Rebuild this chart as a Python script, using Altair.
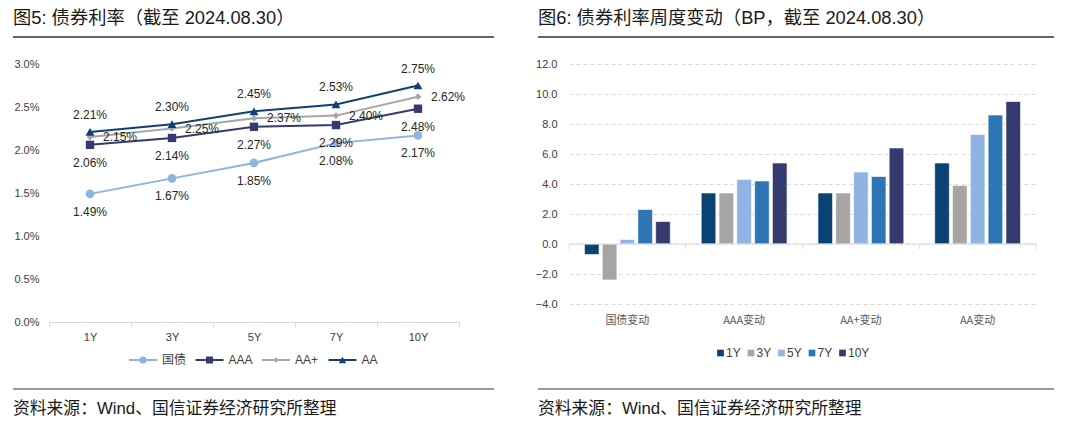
import altair as alt
import pandas as pd

FONT = "Liberation Sans, Noto Sans CJK SC"

# ---------------- data: left panel (yields, %) ----------------
tenors = ["1Y", "3Y", "5Y", "7Y", "10Y"]
series = ["国债", "AAA", "AA+", "AA"]
gov = [1.49, 1.67, 1.85, 2.08, 2.17]
aaa = [2.06, 2.14, 2.27, 2.29, 2.48]
aap = [2.15, 2.25, 2.37, 2.40, 2.62]
aa = [2.21, 2.30, 2.45, 2.53, 2.75]
line_colors = ["#8DB4E2", "#353B6F", "#A6A6A6", "#0E4174"]

# ---------------- data: right panel (weekly change, BP) ----------------
groups = ["国债变动", "AAA变动", "AA+变动", "AA变动"]
chg_1y = [-0.7, 3.4, 3.4, 5.4]
chg_3y = [-2.4, 3.4, 3.4, 3.9]
chg_5y = [0.3, 4.3, 4.8, 7.3]
chg_7y = [2.3, 4.2, 4.5, 8.6]
chg_10y = [1.5, 5.4, 6.4, 9.5]
bar_colors = ["#0B4274", "#A5A5A5", "#8FB4E3", "#2E75B6", "#353B6F"]
r_ticks = [-4, -2, 0, 2, 4, 6, 8, 10, 12]

title_l = "图5: 债券利率（截至 2024.08.30）"
title_r = "图6: 债券利率周度变动（BP，截至 2024.08.30）"
source_txt = "资料来源：Wind、国信证券经济研究所整理"

rows = []
for s, vals in zip(series, [gov, aaa, aap, aa]):
    for t, v in zip(tenors, vals):
        rows.append({"tenor": t, "series": s, "value": v / 100})
df_l = pd.DataFrame(rows)

rows = []
for t, vals in zip(tenors, [chg_1y, chg_3y, chg_5y, chg_7y, chg_10y]):
    for g, v in zip(groups, vals):
        rows.append({"group": g, "tenor": t, "value": v})
df_r = pd.DataFrame(rows)

one = pd.DataFrame({"k": [0]})


def frame(x0, x1, title):
    t = alt.Chart(one).mark_text(align="left", baseline="middle", fontSize=18.3, color="#1A1A1A", font=FONT).encode(
        x=alt.value(x0), y=alt.value(-45), text=alt.value(title))
    u = alt.Chart(one).mark_rule(color="#333333", strokeWidth=1.5).encode(
        x=alt.value(x0), x2=alt.value(x1), y=alt.value(-27))
    b = alt.Chart(one).mark_rule(color="#333333", strokeWidth=1).encode(
        x=alt.value(x0), x2=alt.value(x1), y=alt.value(325))
    s = alt.Chart(one).mark_text(align="left", baseline="middle", fontSize=16.8, color="#1A1A1A", font=FONT).encode(
        x=alt.value(x0), y=alt.value(345), text=alt.value(source_txt))
    return [t, u, b, s]


# ---------------- left panel ----------------
x_l = alt.X("tenor:N", sort=tenors,
            scale=alt.Scale(type="band", paddingInner=0, paddingOuter=0),
            axis=alt.Axis(title=None, labelAngle=0, domainColor="#D9D9D9", tickColor="#D9D9D9",
                          tickBand="extent", tickSize=5, labelPadding=4, labelFontSize=11,
                          labelColor="#404040", labelFont=FONT))
y_l = alt.Y("value:Q", scale=alt.Scale(domain=[0, 0.03], nice=False),
            axis=alt.Axis(title=None, values=[0, 0.005, 0.01, 0.015, 0.02, 0.025, 0.03], format=".1%",
                          grid=False, domain=False, ticks=False, labelPadding=10, labelFontSize=11,
                          labelColor="#404040", labelFont=FONT, labelOverlap=False))
color_l = alt.Color("series:N", scale=alt.Scale(domain=series, range=line_colors), legend=None)

base_l = alt.Chart(df_l).encode(x=x_l, y=y_l)
lines = base_l.mark_line(strokeWidth=2).encode(color=color_l, detail="series:N")

shapes = ["circle", "square", "diamond", "triangle-up"]
sizes = [75, 70, 45, 80]
point_layers = []
for s, sh, sz in zip(series, shapes, sizes):
    point_layers.append(base_l.transform_filter(alt.datum.series == s)
                        .mark_point(shape=sh, size=sz, filled=True, opacity=1).encode(color=color_l))

# manual legend (line + marker + label), laid out left to right
leg_x0, leg_y, leg_step = 80, 296, 66.5
leg_layers = []
for i, (s, c, sh, sz) in enumerate(zip(series, line_colors, shapes, sizes)):
    x0 = leg_x0 + i * leg_step
    leg_layers.append(alt.Chart(one).mark_rule(color=c, strokeWidth=2).encode(
        x=alt.value(x0), x2=alt.value(x0 + 28), y=alt.value(leg_y)))
    leg_layers.append(alt.Chart(one).mark_point(shape=sh, size=sz * 0.7, filled=True, opacity=1, color=c).encode(
        x=alt.value(x0 + 14), y=alt.value(leg_y)))
    leg_layers.append(alt.Chart(one).mark_text(align="left", baseline="middle", fontSize=12, color="#404040",
                                               font=FONT).encode(
        x=alt.value(x0 + 33), y=alt.value(leg_y), text=alt.value(s)))

txt_kw = dict(fontSize=12, color="#262626", font=FONT)
lab_below = base_l.transform_filter(alt.FieldOneOfPredicate(field="series", oneOf=["国债", "AAA"])) \
    .mark_text(dy=18, **txt_kw).encode(text=alt.Text("value:Q", format=".2%"))
lab_right = base_l.transform_filter(alt.datum.series == "AA+") \
    .mark_text(align="left", dx=13, **txt_kw).encode(text=alt.Text("value:Q", format=".2%"))
lab_above = base_l.transform_filter(alt.datum.series == "AA") \
    .mark_text(dy=-17, **txt_kw).encode(text=alt.Text("value:Q", format=".2%"))

left = alt.layer(lines, *point_layers, lab_below, lab_right, lab_above, *leg_layers,
                 *frame(-36, 445, title_l)).properties(width=410, height=258)

# ---------------- right panel ----------------
W_R, H_R = 467, 240
x_r_scale = alt.Scale(paddingInner=0.265, paddingOuter=0.1325)
y_r_scale = alt.Scale(domain=[-4, 12], nice=False)
y_r_axis = alt.Axis(title=None, values=r_ticks, format=".1f", grid=True, tickCount=len(r_ticks),
                    gridDash=[4, 3], gridColor="#D9D9D9", domain=False, ticks=False,
                    labelPadding=12, labelFontSize=11, labelColor="#404040", labelFont=FONT,
                    labelOverlap=False)
bars = alt.Chart(df_r).mark_bar(stroke="white", strokeWidth=0.6).encode(
    x=alt.X("group:N", sort=groups, scale=x_r_scale,
            axis=alt.Axis(title=None, orient="bottom", domain=False, ticks=False, labelAngle=0,
                          labelPadding=10, labelFontSize=11, labelColor="#595959",
                          labelFont="Noto Sans CJK SC")),
    xOffset=alt.XOffset("tenor:N", sort=tenors, scale=alt.Scale(domain=tenors, paddingInner=0.18)),
    y=alt.Y("value:Q", scale=y_r_scale, axis=y_r_axis),
    color=alt.Color("tenor:N", scale=alt.Scale(domain=tenors, range=bar_colors), legend=None),
)
zero_line = alt.Chart(one).mark_rule(color="#D9D9D9", strokeWidth=1).encode(
    y=alt.Y(datum=0, type="quantitative", scale=y_r_scale, axis=y_r_axis))
# small tick marks at the category boundaries on the zero line
zero_px = H_R * 12 / 16
step_r = W_R / len(groups)
tick_layers = [alt.Chart(one).mark_rule(color="#D9D9D9", strokeWidth=1).encode(
    x=alt.value(i * step_r), y=alt.value(zero_px), y2=alt.value(zero_px + 5)) for i in range(len(groups) + 1)]

# manual legend for the bars (square + label)
rleg_x0, rleg_y, rleg_step = 148, 289, 30.5
rleg_layers = []
for i, (t, c) in enumerate(zip(tenors, bar_colors)):
    x0 = rleg_x0 + i * rleg_step
    rleg_layers.append(alt.Chart(one).mark_point(shape="square", size=45, filled=True, opacity=1, color=c).encode(
        x=alt.value(x0 + 3.5), y=alt.value(rleg_y)))
    rleg_layers.append(alt.Chart(one).mark_text(align="left", baseline="middle", fontSize=12, color="#404040",
                                                font=FONT).encode(
        x=alt.value(x0 + 9), y=alt.value(rleg_y), text=alt.value(t)))

right = alt.layer(bars, zero_line, *tick_layers, *rleg_layers, *frame(-31, 485, title_r)) \
    .properties(width=W_R, height=H_R)

chart = alt.hconcat(left, right, spacing=40) \
    .resolve_scale(color="independent") \
    .properties(padding={"left": 4, "top": 1, "right": 0, "bottom": 0}) \
    .configure(font=FONT) \
    .configure_view(stroke=None)

chart.save("out.html", embed_options={"renderer": "svg", "actions": False})
